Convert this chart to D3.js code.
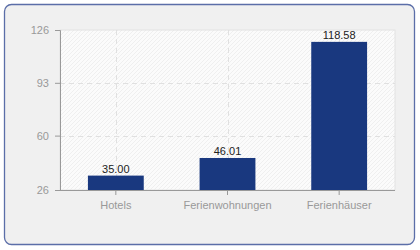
<!DOCTYPE html>
<html><head><meta charset="utf-8">
<script src="https://cdn.jsdelivr.net/npm/d3@7"></script>
<style>body{margin:0;background:#fff}svg{display:block}text{font-family:"Liberation Sans",Arial,sans-serif}</style>
</head><body>
<svg id="c" width="420" height="250"></svg>
<script>
const categories = ["Hotels", "Ferienwohnungen", "Ferienhäuser"];
const values = [35.00, 46.01, 118.58];
const yTicks = [26, 60, 93, 126];

const FONT = '"Liberation Sans",Arial,sans-serif';
const svg = d3.select("#c");
const m = {l: 60, r: 25, t: 30, b: 60};
const W = 420, H = 250;

svg.append("rect").attr("x", 4.5).attr("y", 4.5).attr("width", 410).attr("height", 240)
  .attr("rx", 7).attr("fill", "#f0f0f0").attr("stroke", "#5b6ea8").attr("stroke-width", 1.3);

const defs = svg.append("defs");
const pat = defs.append("pattern").attr("id", "hatch").attr("patternUnits", "userSpaceOnUse")
  .attr("width", 4).attr("height", 4);
pat.append("rect").attr("width", 4).attr("height", 4).attr("fill", "#fbfbfb");
pat.append("path").attr("d", "M-1,1 l2,-2 M0,4 l4,-4 M3,5 l2,-2").attr("stroke", "#ececec").attr("stroke-width", 0.8);

const x = d3.scaleBand().domain(categories).range([m.l, W - m.r]).paddingInner(0).paddingOuter(0);
const y = d3.scaleLinear().domain([26, 126]).range([H - m.b, m.t]);

svg.append("rect").attr("x", m.l).attr("y", m.t).attr("width", W - m.r - m.l).attr("height", H - m.b - m.t)
  .attr("fill", "url(#hatch)").attr("stroke", "#e2e2e2").attr("stroke-width", 1);

// grid
svg.append("g").selectAll("line").data(yTicks.filter(t => t !== 26 && t !== 126)).join("line")
  .attr("x1", m.l).attr("x2", W - m.r).attr("y1", d => Math.round(y(d)) + 0.5).attr("y2", d => Math.round(y(d)) + 0.5)
  .attr("stroke", "#e0e0e0").attr("stroke-dasharray", "5,4");
svg.append("g").selectAll("line").data(categories).join("line")
  .attr("x1", d => Math.round(x(d) + x.bandwidth() / 2) + 0.5).attr("x2", d => Math.round(x(d) + x.bandwidth() / 2) + 0.5)
  .attr("y1", m.t).attr("y2", H - m.b)
  .attr("stroke", "#e0e0e0").attr("stroke-dasharray", "5,4");

// bars
const bw = x.bandwidth() * 0.5;
svg.append("g").selectAll("rect").data(values).join("rect")
  .attr("x", (d, i) => x(categories[i]) + (x.bandwidth() - bw) / 2)
  .attr("width", bw)
  .attr("y", d => y(d)).attr("height", d => y(26) - y(d))
  .attr("fill", "#19387f");

svg.append("g").selectAll("text").data(values).join("text")
  .attr("x", (d, i) => x(categories[i]) + x.bandwidth() / 2)
  .attr("y", d => y(d) - 3)
  .attr("text-anchor", "middle").attr("font-size", 11).attr("fill", "#222")
  .text(d => d.toFixed(2));

// axes
const yAxis = d3.axisLeft(y).tickValues(yTicks).tickSize(5).tickPadding(6);
const gy = svg.append("g").attr("transform", `translate(${m.l},0)`).call(yAxis);
gy.selectAll("path,line").attr("stroke", "#999");
gy.selectAll("text").attr("fill", "#999").attr("font-size", 11).attr("font-family", FONT);

const xAxis = d3.axisBottom(x).tickSize(5).tickSizeOuter(0).tickPadding(6);
const gx = svg.append("g").attr("transform", `translate(0,${H - m.b})`).call(xAxis);
gx.selectAll("path,line").attr("stroke", "#999");
gx.select("path").attr("d", `M${m.l},0.5H${W - m.r}`);
gx.selectAll("text").attr("fill", "#999").attr("font-size", 11).attr("font-family", FONT);
</script>
</body></html>
